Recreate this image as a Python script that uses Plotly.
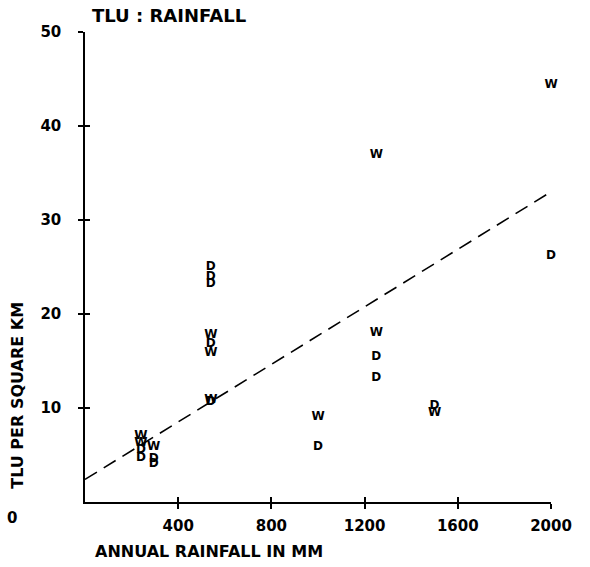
import plotly.graph_objects as go

# Data (annual rainfall in mm, TLU per square km)
rain_mm = [240, 240, 240, 240, 295, 295, 295,
           540, 540, 540, 540, 540, 540, 540, 540,
           1000, 1000,
           1250, 1250, 1250, 1250,
           1500, 1500,
           2000, 2000]
tlu_km2 = [7.0, 6.3, 5.5, 4.7, 5.8, 4.6, 4.0,
           25.0, 23.9, 23.2, 17.8, 16.8, 15.9, 10.9, 10.6,
           9.0, 5.9,
           36.9, 18.0, 15.4, 13.2,
           10.2, 9.5,
           44.4, 26.2]
season = ["W", "W", "D", "D", "W", "D", "D",
          "D", "D", "D", "W", "D", "W", "W", "D",
          "W", "D",
          "W", "W", "D", "D",
          "D", "W",
          "W", "D"]

# Fitted trend line (endpoints)
trend_x = [0, 2000]
trend_y = [2.4, 33.0]

x_ticks = [400, 800, 1200, 1600, 2000]
y_ticks = [10, 20, 30, 40, 50]

FONT = "DejaVu Sans"
INK = "black"

fig = go.Figure()
fig.add_trace(go.Scatter(
    x=trend_x, y=trend_y, mode="lines",
    line=dict(color=INK, width=1.6, dash="14px,8px"),
    hoverinfo="skip", showlegend=False))
fig.add_trace(go.Scatter(
    x=rain_mm, y=tlu_km2, mode="text", text=season, cliponaxis=False,
    textfont=dict(family=FONT, size=12, color=INK, weight="bold"),
    showlegend=False))
# invisible trace to carry the overlay axes that draw the inner half of ticks
fig.add_trace(go.Scatter(x=[None], y=[None], xaxis="x2", yaxis="y2",
                         showlegend=False, hoverinfo="skip"))

tickfont = dict(family=FONT, size=15, color=INK, weight="bold")

fig.update_layout(
    width=590, height=567,
    margin=dict(l=85, r=39, t=32, b=65),
    paper_bgcolor="white", plot_bgcolor="white",
    xaxis=dict(range=[0, 2000], tickvals=x_ticks, ticktext=[str(v) for v in x_ticks],
               ticks="outside", ticklen=5, tickwidth=1.5, tickcolor=INK,
               showline=True, linecolor=INK, linewidth=1.5, showgrid=False,
               zeroline=False, tickfont=tickfont, ticklabelstandoff=4),
    yaxis=dict(range=[0, 50], tickvals=y_ticks, ticktext=[str(v) for v in y_ticks],
               ticks="outside", ticklen=5, tickwidth=1.5, tickcolor=INK,
               showline=True, linecolor=INK, linewidth=1.5, showgrid=False,
               zeroline=False, tickfont=tickfont, ticklabelstandoff=14),
    xaxis2=dict(range=[0, 2000], tickvals=x_ticks, overlaying="x", anchor="y",
                side="bottom", ticks="inside", ticklen=5, tickwidth=1.5,
                tickcolor=INK, showticklabels=False, showline=False,
                showgrid=False, zeroline=False),
    yaxis2=dict(range=[0, 50], tickvals=y_ticks, overlaying="y", anchor="x",
                side="left", ticks="inside", ticklen=5, tickwidth=1.5,
                tickcolor=INK, showticklabels=False, showline=False,
                showgrid=False, zeroline=False),
    annotations=[
        dict(text="TLU : RAINFALL", xref="paper", yref="paper", x=0.011, y=1.036,
             xanchor="left", yanchor="middle", showarrow=False,
             font=dict(family=FONT, size=18, color=INK, weight="bold")),
        dict(text="ANNUAL RAINFALL IN MM", xref="paper", yref="paper", x=0.017, y=-0.106,
             xanchor="left", yanchor="middle", showarrow=False,
             font=dict(family=FONT, size=16, color=INK, weight="bold")),
        dict(text="TLU PER SQUARE KM", xref="paper", yref="paper", x=-0.144, y=0.228,
             xanchor="center", yanchor="middle", textangle=-90, showarrow=False,
             font=dict(family=FONT, size=16, color=INK, weight="bold")),
        dict(text="0", xref="paper", yref="paper", x=-0.172, y=-0.034,
             xanchor="left", yanchor="middle", showarrow=False,
             font=tickfont),
    ],
)

fig.write_html("out.html")
